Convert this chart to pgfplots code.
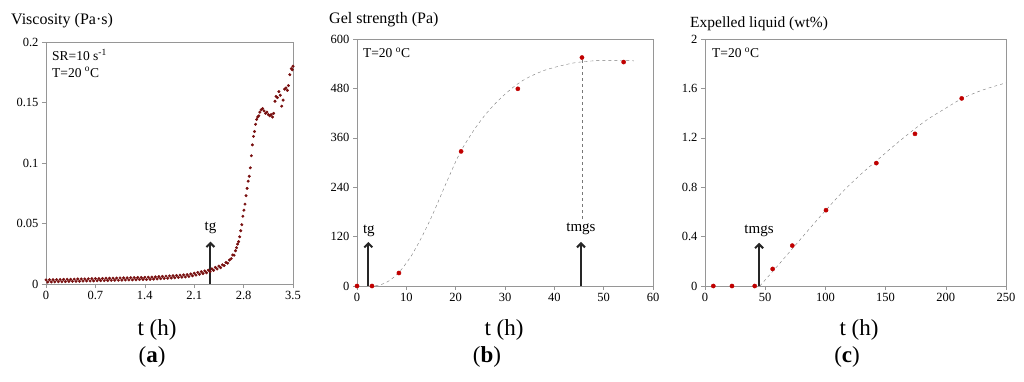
\documentclass[border=0pt]{standalone}
\usepackage{pgfplots}
\pgfplotsset{compat=1.18}
\usepackage{fontspec}
\setmainfont{Liberation Serif}
\usetikzlibrary{arrows.meta}
\definecolor{dotA}{RGB}{120,15,15}
\definecolor{dotB}{RGB}{192,0,0}
\definecolor{frame}{RGB}{150,150,150}
\pgfplotsset{
  panel/.style={
    scale only axis, anchor=south west,
    axis line style={frame}, tick style={frame, thin},
    tick align=outside, major tick length=4pt,
    xtick pos=left, ytick pos=left,
    tick label style={font=\fontsize{12.5}{12.5}\selectfont},
    /pgf/number format/assume math mode=true,
    clip=false,
  },
}
\tikzset{
  ann/.style={font=\fontsize{13.5}{14}\selectfont, anchor=west, inner sep=0pt},
  arr/.style={-{Straight Barb[length=4pt,width=8pt]}, line width=2pt, black!85},
  arlab/.style={font=\fontsize{15}{15}\selectfont, inner sep=0pt},
}
\begin{document}
\begin{tikzpicture}[x=1pt,y=1pt]
\path[use as bounding box] (0,0) rectangle (1024,381);
% ---------------- (a)
\begin{axis}[panel, at={(46pt,97pt)}, width=247pt, height=242pt,
  xmin=0, xmax=3.5, ymin=0, ymax=0.2,
  xtick={0,0.7,1.4,2.1,2.8,3.5}, xticklabels={0,0.7,1.4,2.1,2.8,3.5},
  ytick={0,0.05,0.1,0.15,0.2}, yticklabels={0,0.05,0.1,0.15,0.2}]
\addplot[only marks, mark=*, mark size=1.3pt, color=dotA] coordinates {
(0.000,0.0034)(0.025,0.0016)(0.050,0.0035)(0.075,0.0017)(0.100,0.0036)(0.125,0.0018)
(0.150,0.0036)(0.175,0.0019)(0.200,0.0037)(0.225,0.0019)(0.250,0.0038)(0.275,0.0020)
(0.300,0.0039)(0.325,0.0021)(0.350,0.0039)(0.375,0.0022)(0.400,0.0040)(0.425,0.0022)
(0.450,0.0041)(0.475,0.0023)(0.500,0.0042)(0.525,0.0024)(0.550,0.0042)(0.575,0.0025)
(0.600,0.0043)(0.625,0.0025)(0.650,0.0044)(0.675,0.0026)(0.700,0.0045)(0.725,0.0027)
(0.750,0.0045)(0.775,0.0028)(0.800,0.0046)(0.825,0.0028)(0.850,0.0047)(0.875,0.0029)
(0.900,0.0048)(0.925,0.0030)(0.950,0.0048)(0.975,0.0031)(1.000,0.0049)(1.025,0.0031)
(1.050,0.0050)(1.075,0.0032)(1.100,0.0051)(1.125,0.0033)(1.150,0.0051)(1.175,0.0034)
(1.200,0.0052)(1.225,0.0034)(1.250,0.0053)(1.275,0.0035)(1.300,0.0054)(1.325,0.0036)
(1.350,0.0054)(1.375,0.0037)(1.400,0.0055)(1.425,0.0037)(1.450,0.0056)(1.475,0.0038)
(1.500,0.0057)(1.525,0.0040)(1.550,0.0059)(1.575,0.0042)(1.600,0.0061)(1.625,0.0044)
(1.650,0.0063)(1.675,0.0046)(1.700,0.0065)(1.725,0.0048)(1.750,0.0067)(1.775,0.0050)
(1.800,0.0069)(1.825,0.0052)(1.850,0.0071)(1.875,0.0054)(1.900,0.0073)(1.925,0.0056)
(1.950,0.0075)(1.975,0.0058)(2.000,0.0077)(2.025,0.0062)(2.050,0.0083)(2.075,0.0068)
(2.100,0.0089)(2.125,0.0074)(2.150,0.0096)(2.175,0.0081)(2.200,0.0102)(2.225,0.0087)
(2.250,0.0108)(2.275,0.0093)(2.300,0.0114)(2.325,0.0102)(2.350,0.0125)(2.375,0.0113)
(2.400,0.0137)(2.425,0.0124)(2.450,0.0148)(2.475,0.0135)(2.500,0.0159)(2.525,0.0152)
(2.550,0.0178)(2.575,0.0172)(2.600,0.0198)(2.625,0.0210)(2.645,0.0240)(2.665,0.0238)
(2.685,0.0275)(2.700,0.0300)(2.715,0.0330)(2.730,0.0350)(2.745,0.0390)(2.760,0.0440)
(2.775,0.0490)(2.790,0.0560)(2.805,0.0610)(2.820,0.0660)(2.835,0.0730)(2.850,0.0790)
(2.865,0.0850)(2.880,0.0890)(2.895,0.0960)(2.910,0.1060)(2.925,0.1150)(2.940,0.1220)
(2.955,0.1260)(2.970,0.1320)(2.985,0.1360)(3.000,0.1380)(3.015,0.1390)(3.030,0.1420)
(3.050,0.1440)(3.070,0.1450)(3.090,0.1430)(3.110,0.1410)(3.130,0.1420)(3.150,0.1400)
(3.170,0.1390)(3.190,0.1400)(3.210,0.1380)(3.225,0.1410)(3.245,0.1510)(3.260,0.1550)
(3.280,0.1540)(3.300,0.1590)(3.320,0.1560)(3.340,0.1470)(3.360,0.1520)(3.380,0.1610)
(3.400,0.1620)(3.420,0.1600)(3.435,0.1640)(3.455,0.1730)(3.475,0.1780)(3.490,0.1770)
(3.500,0.1800)};
\draw[arr] (axis cs:2.33,0) -- (axis cs:2.33,0.035);
\node[arlab] at (axis cs:2.33,0.046) {tg};
\node[ann] at (axis cs:0.085,0.189) {SR=10 s\textsuperscript{-1}};
\node[ann] at (axis cs:0.085,0.175) {T=20 \textsuperscript{o}C};
\end{axis}
% ---------------- (b)
\begin{axis}[panel, at={(357pt,95pt)}, width=296pt, height=247pt,
  xmin=0, xmax=60, ymin=0, ymax=600,
  xtick={0,10,...,60}, ytick={0,120,...,600}]
\addplot[dashed, frame!80!black, thin, smooth] coordinates {
(2.5,0)(4,1)(5,4)(6,9)(7,17)(8,27)(9,40)(10,56)(11,73)(12,94)(13,116)(14,140)
(15,165)(16,192)(17,220)(18,248)(19,275)(20,302)(21,326)(22,347)(24,384)(26,416)
(28,443)(30,466)(32,486)(34,502)(36,514)(38,524)(40,531)(42,537)(44,542)(46,545)
(48,547)(50,548)(53,548)(56.1,547)};
\addplot[only marks, mark=*, mark size=2.1pt, color=dotB] coordinates {
(0,0)(3.04,0)(8.5,31.6)(21.1,327)(32.6,479)(45.6,555)(54.05,544)};
\draw[dashed, frame!80!black, thin] (axis cs:45.6,548) -- (axis cs:45.6,163);
\draw[arr] (axis cs:2.3,0) -- (axis cs:2.3,107);
\node[arlab] at (axis cs:2.4,135) {tg};
\draw[arr] (axis cs:45.4,0) -- (axis cs:45.4,107);
\node[arlab] at (axis cs:45.4,139) {tmgs};
\node[ann] at (axis cs:1.2,566) {T=20 \textsuperscript{o}C};
\end{axis}
% ---------------- (c)
\begin{axis}[panel, at={(705pt,95pt)}, width=301pt, height=247pt,
  xmin=0, xmax=250, ymin=0, ymax=2,
  xtick={0,50,...,250}, ytick={0,0.4,0.8,1.2,1.6,2}, yticklabels={0,0.4,0.8,1.2,1.6,2}]
\addplot[dashed, frame!80!black, thin, smooth] coordinates {
(45.5,0)(60,0.16)(75,0.33)(90,0.50)(100,0.61)(115,0.77)(130,0.91)(142,1.01)
(155,1.12)(170,1.24)(185,1.35)(200,1.44)(213,1.515)(230,1.585)(250,1.645)};
\addplot[only marks, mark=*, mark size=2.1pt, color=dotB] coordinates {
(6.9,0)(22.4,0)(41.3,0)(56.2,0.138)(72.5,0.327)(100.5,0.614)(142.3,0.995)(174.4,1.232)(213.2,1.519)};
\draw[arr] (axis cs:44.9,0) -- (axis cs:44.9,0.35);
\node[arlab] at (axis cs:44.9,0.45) {tmgs};
\node[ann] at (axis cs:5.8,1.887) {T=20 \textsuperscript{o}C};
\end{axis}
% ---------------- titles and labels
\node[anchor=west, font=\fontsize{16}{16}\selectfont, inner sep=0pt] at (11,360) {Viscosity (Pa·s)};
\node[anchor=west, font=\fontsize{16}{16}\selectfont, inner sep=0pt] at (329,361) {Gel strength (Pa)};
\node[anchor=west, font=\fontsize{15.5}{16}\selectfont, inner sep=0pt] at (690,357) {Expelled liquid (wt\%)};
\foreach \cx in {157,504,859} \node[font=\fontsize{23}{23}\selectfont] at (\cx,51) {t (h)};
\node[font=\fontsize{23}{23}\selectfont] at (152,24) {(\textbf{a})};
\node[font=\fontsize{23}{23}\selectfont] at (487,24) {(\textbf{b})};
\node[font=\fontsize{23}{23}\selectfont] at (847,24) {(\textbf{c})};
\end{tikzpicture}
\end{document}
